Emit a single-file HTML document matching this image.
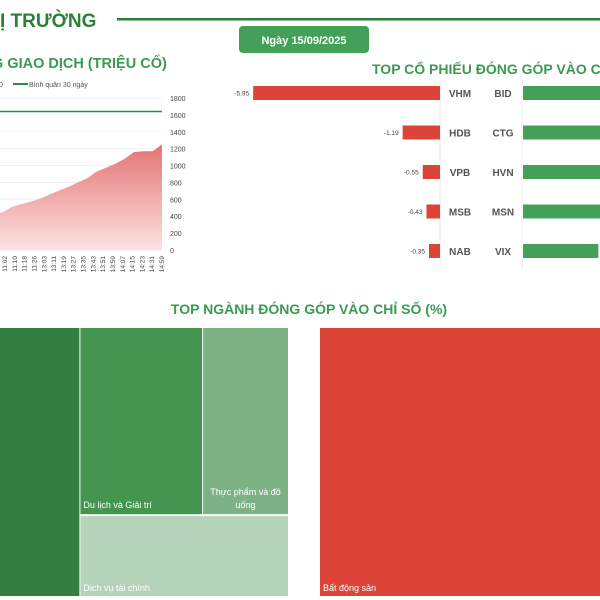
<!DOCTYPE html>
<html><head><meta charset="utf-8"><style>
html,body{margin:0;padding:0;background:#fff;width:600px;height:600px;overflow:hidden}
svg{display:block;font-family:"Liberation Sans","DejaVu Sans",sans-serif}
</style></head><body>
<svg id="c" width="600" height="600" viewBox="0 0 600 600">
<text x="0" y="27" font-size="19" font-weight="bold" fill="#2f7d3a">Ị TRƯỜNG</text>
<rect x="117" y="18" width="483" height="2.5" fill="#2f7d3a"/>
<rect x="239" y="26" width="130" height="27" rx="4" fill="#43a058"/>
<text x="304" y="44" font-size="11" font-weight="bold" fill="#fff" text-anchor="middle">Ngày 15/09/2025</text>
<text x="-8" y="68" font-size="14.5" font-weight="bold" fill="#3a9a52">G GIAO DỊCH (TRIỆU CỔ)</text>
<text x="-2" y="87" font-size="7" fill="#555">D</text>
<line x1="13" y1="84" x2="28" y2="84" stroke="#2e8b47" stroke-width="2"/>
<text x="29" y="87" font-size="7" fill="#555">Bình quân 30 ngày</text>
<g id="area"></g>
<text x="372" y="74" font-size="14" font-weight="bold" fill="#3a9a52">TOP CỔ PHIẾU ĐÓNG GÓP VÀO CHỈ SỐ</text>
<line x1="440" y1="80" x2="440" y2="268" stroke="#eee"/>
<line x1="522" y1="80" x2="522" y2="268" stroke="#eee"/>
<g id="bars"></g>
<text x="309" y="314" font-size="14" font-weight="bold" fill="#3a9a52" text-anchor="middle">TOP NGÀNH ĐÓNG GÓP VÀO CHỈ SỐ (%)</text>
<g id="tree"></g>
</svg>
<script>
const times=["10:54","11:02","11:10","11:18","11:26","13:03","13:11","13:19","13:27","13:35","13:43","13:51","13:59","14:07","14:15","14:23","14:31","14:45","14:59"];
const tickLabels=["11:02","11:10","11:18","11:26","13:03","13:11","13:19","13:27","13:35","13:43","13:51","13:59","14:07","14:15","14:23","14:31","14:59"];
const volume=[420,450,515,545,575,610,660,705,750,800,850,930,975,1020,1080,1160,1170,1170,1250];
const avg30=1640;
const yTicks=[0,200,400,600,800,1000,1200,1400,1600,1800];
const negNames=["VHM","HDB","VPB","MSB","NAB"];
const negVals=[-5.95,-1.19,-0.55,-0.43,-0.35];
const posNames=["BID","CTG","HVN","MSN","VIX"];
const posVals=[3.2,2.9,2.7,2.5,2.4];
const sectors=["Ngân hàng","Du lịch và Giải trí","Thực phẩm và đồ uống","Dịch vụ tài chính","Bất động sản"];
const sectorVals=[2.7,2.6,1.8,1.9,-9.5];
const NS="http://www.w3.org/2000/svg";
function mk(t,a,p){const e=document.createElementNS(NS,t);for(const k in a)e.setAttribute(k,a[k]);p.appendChild(e);return e;}
const ga=document.getElementById('area');
const y0=250,y1=98,x0=-6,x1=162;
const yS=v=>y0-(v/1800)*(y0-y1);
const xS=i=>x0+(x1-x0)*i/(times.length-1);
const defs=mk('defs',{},ga);
const lg=mk('linearGradient',{id:'g1',x1:0,y1:0,x2:0,y2:1},defs);
mk('stop',{offset:'0','stop-color':'#e57373'},lg);mk('stop',{offset:'1','stop-color':'#fbe3e3'},lg);
yTicks.forEach(t=>{
 const l=mk('line',{x1:-5,x2:162,y1:yS(t),y2:yS(t),stroke:'#eee','stroke-width':0.8},ga);
 
 
 const tx=mk('text',{x:170,y:yS(t)+3,'font-size':7,fill:'#444'},ga);tx.textContent=t;
 
 
});
let d='M'+xS(0)+','+y0;volume.forEach((v,i)=>d+=' L'+xS(i).toFixed(1)+','+yS(v).toFixed(1));d+=' L'+xS(volume.length-1)+','+y0+'Z';
const ar=mk('path',{d:d,fill:'url(#g1)'},ga);


const al=mk('line',{x1:-5,x2:162,y1:yS(avg30),y2:yS(avg30),stroke:'#2e8b47','stroke-width':1.5},ga);


tickLabels.forEach((t,i)=>{
 const x=5+i*(162-5)/(tickLabels.length-1);
 const tx=mk('text',{x:0,y:0,'font-size':6.5,fill:'#444',transform:`translate(${x+2},256) rotate(-90)`,'text-anchor':'end'},ga);tx.textContent=t;
 
 
});
const gb=document.getElementById('bars');
const ppu=31.4;
negNames.forEach((n,i)=>{
 const cy=93+i*39.5;
 const w=Math.abs(negVals[i])*ppu;
 const r=mk('rect',{x:440-w,y:cy-7,width:w,height:14,fill:'#db4437'},gb);
 
 
 const v=mk('text',{x:440-w-4,y:cy+2.5,'font-size':6.5,fill:'#444','text-anchor':'end'},gb);v.textContent=negVals[i].toFixed(2);
 
 
 const t=mk('text',{x:460,y:cy+4,'font-size':10,'font-weight':'bold',fill:'#555','text-anchor':'middle'},gb);t.textContent=n;
 
 
 const pn=posNames[i];
 const pw=posVals[i]*ppu;
 const pr=mk('rect',{x:523,y:cy-7,width:pw,height:14,fill:'#43a058'},gb);
 
 
 const pt=mk('text',{x:503,y:cy+4,'font-size':10,'font-weight':'bold',fill:'#555','text-anchor':'middle'},gb);pt.textContent=pn;
 
 
});
const gt=document.getElementById('tree');
const tTop=328,tBot=596;
const posTotal=sectorVals.slice(0,4).reduce((a,b)=>a+b,0);
const gx0=-10,gx1=288;
const W=gx1-gx0;
const c0w=W*sectorVals[0]/posTotal;
const restX=gx0+c0w+1, restW=gx1-restX;
const restTot=sectorVals[1]+sectorVals[2]+sectorVals[3];
const topH=(tBot-tTop)*(sectorVals[1]+sectorVals[2])/restTot;
const duW=restW*sectorVals[1]/(sectorVals[1]+sectorVals[2]);
const rects=[
 [gx0,tTop,c0w,tBot-tTop,'#357e42'],
 [restX,tTop,duW-1,topH-1,'#43954f'],
 [restX+duW,tTop,restW-duW,topH-1,'#7db285'],
 [restX,tTop+topH+1,restW,tBot-tTop-topH-1,'#b5d3b8'],
 [320,tTop,600-320,tBot-tTop,'#db4437']];
rects.forEach((r,i)=>{
 const e=mk('rect',{x:r[0],y:r[1],width:r[2],height:r[3],fill:r[4]},gt);
 
 
});
function lab(txt,x,y,anchor){const t=mk('text',{x:x,y:y,'font-size':9,fill:'#fff','text-anchor':anchor||'start'},gt);t.textContent=txt;
 
 }
lab(sectors[1],rects[1][0]+3,rects[1][1]+rects[1][3]-6);
lab("Thực phẩm và đồ",rects[2][0]+rects[2][2]/2,rects[2][1]+rects[2][3]-19,'middle');
lab("uống",rects[2][0]+rects[2][2]/2,rects[2][1]+rects[2][3]-6,'middle');
lab(sectors[3],rects[3][0]+3,tBot-5);
lab(sectors[4],323,tBot-5);
</script>
</body></html>
